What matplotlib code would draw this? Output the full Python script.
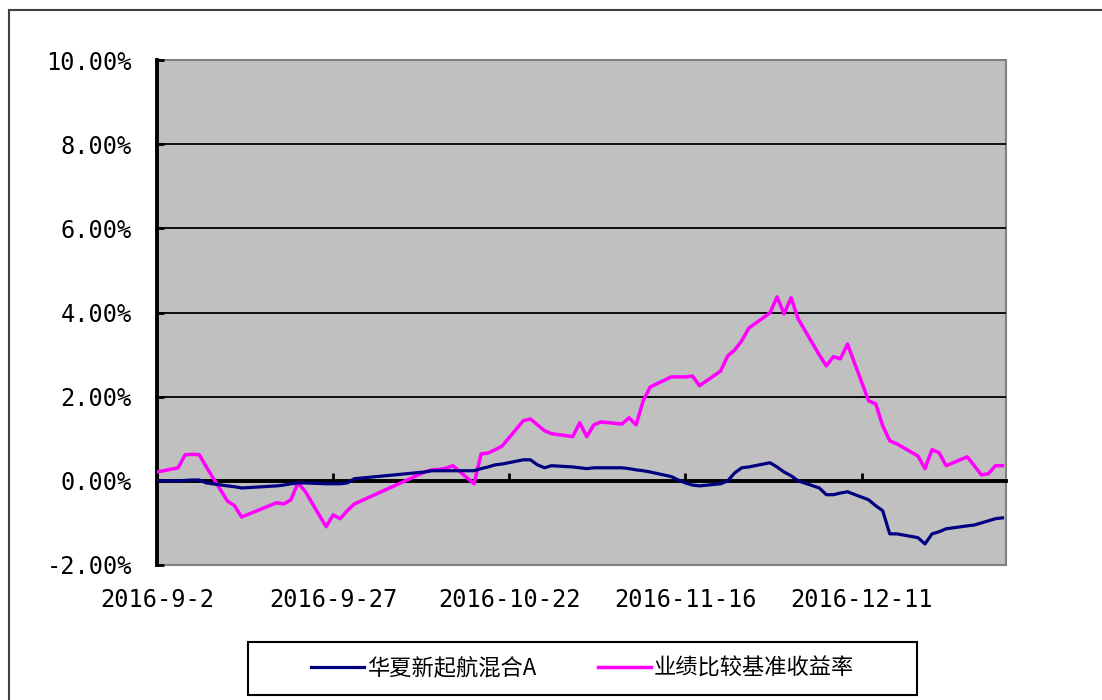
import numpy as np
import pandas as pd
import matplotlib
matplotlib.use("Agg")
import matplotlib.pyplot as plt
from matplotlib.lines import Line2D
from matplotlib.patches import Rectangle

plt.rcParams['font.family'] = ['Noto Sans CJK SC', 'DejaVu Sans']

# trading days (plus period end 12-31)
dates = ["2016-09-02", "2016-09-05", "2016-09-06", "2016-09-07", "2016-09-08", "2016-09-09",
         "2016-09-12", "2016-09-13", "2016-09-14", "2016-09-19", "2016-09-20", "2016-09-21",
         "2016-09-22", "2016-09-23", "2016-09-26", "2016-09-27", "2016-09-28", "2016-09-29",
         "2016-09-30", "2016-10-10", "2016-10-11", "2016-10-12", "2016-10-13", "2016-10-14",
         "2016-10-17", "2016-10-18", "2016-10-19", "2016-10-20", "2016-10-21", "2016-10-24",
         "2016-10-25", "2016-10-26", "2016-10-27", "2016-10-28", "2016-10-31", "2016-11-01",
         "2016-11-02", "2016-11-03", "2016-11-04", "2016-11-07", "2016-11-08", "2016-11-09",
         "2016-11-10", "2016-11-11", "2016-11-14", "2016-11-15", "2016-11-16", "2016-11-17",
         "2016-11-18", "2016-11-21", "2016-11-22", "2016-11-23", "2016-11-24", "2016-11-25",
         "2016-11-28", "2016-11-29", "2016-11-30", "2016-12-01", "2016-12-02", "2016-12-05",
         "2016-12-06", "2016-12-07", "2016-12-08", "2016-12-09", "2016-12-12", "2016-12-13",
         "2016-12-14", "2016-12-15", "2016-12-16", "2016-12-19", "2016-12-20", "2016-12-21",
         "2016-12-22", "2016-12-23", "2016-12-26", "2016-12-27", "2016-12-28", "2016-12-29",
         "2016-12-30", "2016-12-31"]

# fund return (%)
fund = [0.00, 0.00, 0.01, 0.02, 0.02, -0.05,
        -0.12, -0.14, -0.17, -0.12, -0.10, -0.07,
        -0.05, -0.05, -0.07, -0.07, -0.07, -0.05,
        0.05, 0.21, 0.24, 0.24, 0.24, 0.24,
        0.24, 0.29, 0.33, 0.38, 0.40, 0.50,
        0.50, 0.38, 0.31, 0.36, 0.33, 0.31,
        0.29, 0.31, 0.31, 0.31, 0.29, 0.26,
        0.24, 0.21, 0.10, 0.02, -0.05, -0.10,
        -0.12, -0.07, 0.00, 0.19, 0.31, 0.33,
        0.43, 0.33, 0.21, 0.12, 0.00, -0.17,
        -0.33, -0.33, -0.29, -0.26, -0.45, -0.59,
        -0.71, -1.26, -1.26, -1.35, -1.50, -1.26,
        -1.21, -1.14, -1.07, -1.05, -1.00, -0.95,
        -0.90, -0.88]

# benchmark return (%)
bench = [0.21, 0.31, 0.62, 0.63, 0.62, 0.33,
         -0.48, -0.59, -0.86, -0.52, -0.55, -0.45,
         -0.05, -0.24, -1.09, -0.81, -0.90, -0.71,
         -0.55, 0.21, 0.26, 0.27, 0.30, 0.36,
         -0.07, 0.64, 0.66, 0.74, 0.83, 1.43,
         1.47, 1.33, 1.19, 1.12, 1.05, 1.38,
         1.05, 1.33, 1.40, 1.35, 1.50, 1.33,
         1.90, 2.23, 2.47, 2.47, 2.47, 2.49,
         2.26, 2.61, 2.97, 3.11, 3.33, 3.63,
         3.99, 4.37, 3.97, 4.35, 3.85, 2.99,
         2.73, 2.95, 2.90, 3.25, 1.90, 1.83,
         1.31, 0.95, 0.88, 0.59, 0.29, 0.74,
         0.67, 0.36, 0.57, 0.36, 0.14, 0.17,
         0.36, 0.36]

yticks = [-2, 0, 2, 4, 6, 8, 10]
xtick_dates = ["2016-09-02", "2016-09-27", "2016-10-22", "2016-11-16", "2016-12-11"]
xtick_labels = ["2016-9-2", "2016-9-27", "2016-10-22", "2016-11-16", "2016-12-11"]
names = ["华夏新起航混合A", "业绩比较基准收益率"]

W, H = 1102, 700
fig = plt.figure(figsize=(W / 100, H / 100), dpi=100)
ax = fig.add_axes([157 / W, 135 / H, 849 / W, 505 / H])
ax.set_facecolor('#c0c0c0')
ax.patch.set_edgecolor('#808080')
ax.patch.set_linewidth(1.5)

x = pd.to_datetime(dates)
ax.plot(x, bench, color='#ff00ff', lw=2.5, label=names[1], zorder=3)
ax.plot(x, fund, color='#000080', lw=2.3, label=names[0], zorder=4)

for v in yticks[2:-1]:
    ax.axhline(v, color='black', lw=1.3, zorder=1)

ax.set_ylim(yticks[0], yticks[-1])
ax.set_xlim(pd.Timestamp("2016-09-02"), pd.Timestamp("2016-12-31 12:00"))
ax.set_yticks(yticks, [f"{v:.2f}%" for v in yticks])
ax.set_xticks(pd.to_datetime(xtick_dates), xtick_labels)

ax.spines['top'].set_visible(False)
ax.spines['right'].set_visible(False)
ax.spines['left'].set_color('black')
ax.spines['left'].set_linewidth(2.8)
ax.spines['bottom'].set_position(('data', 0))
ax.spines['bottom'].set_color('black')
ax.spines['bottom'].set_linewidth(2.8)
ax.spines['bottom'].set_zorder(2)

ax.tick_params(axis='y', direction='in', length=5, width=2, pad=18, labelsize=17)
ax.tick_params(axis='x', direction='in', length=6, width=2, pad=77, labelsize=17)
for lab in ax.get_xticklabels() + ax.get_yticklabels():
    lab.set_fontfamily('DejaVu Sans Mono')

# legend with square box
handles = [Line2D([], [], color='#000080', lw=2.3), Line2D([], [], color='#ff00ff', lw=2.5)]
fig.legend(handles, names, loc='center', bbox_to_anchor=(582.5 / W, 1 - 668.5 / H),
           ncol=2, frameon=False, fontsize=16, handlelength=2.4, handletextpad=0.1,
           columnspacing=2.8)
fig.add_artist(Rectangle((248 / W, 5 / H), 669 / W, 53 / H, transform=fig.transFigure,
                         fill=False, edgecolor='black', lw=1.5))

# outer chart border
fig.add_artist(Line2D([9 / W, 9 / W], [0, 1 - 10 / H], transform=fig.transFigure,
                      color='#404040', lw=1.5))
fig.add_artist(Line2D([9 / W, 1], [1 - 10 / H, 1 - 10 / H], transform=fig.transFigure,
                      color='#404040', lw=1.5))

fig.savefig("out.png", dpi=100)
